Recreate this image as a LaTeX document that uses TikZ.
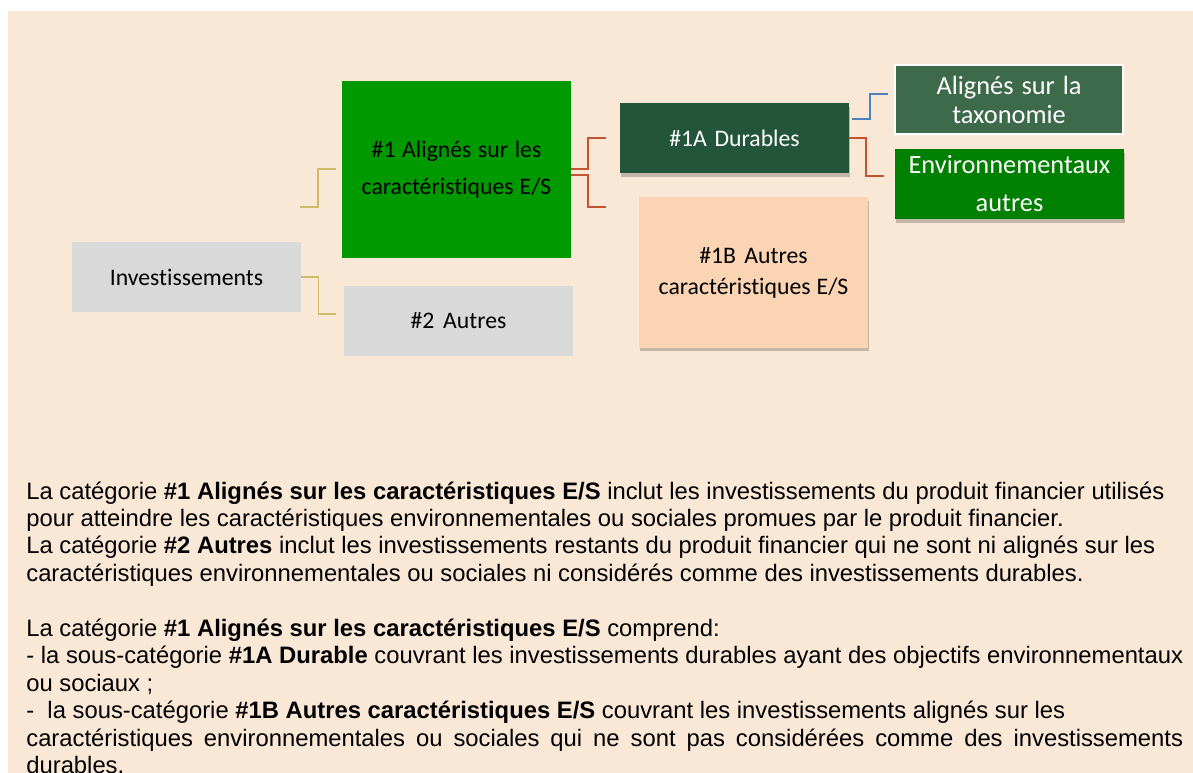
\documentclass[tikz,border=0pt]{standalone}
\usepackage{fontspec}
\setmainfont[Ligatures=NoCommon]{Liberation Sans}
\newfontfamily\calibri[Ligatures=NoCommon]{Carlito}
\usetikzlibrary{calc,shadows}

\definecolor{fond}{HTML}{FAE8D7}
\definecolor{gris}{HTML}{D9D9D9}
\definecolor{vertES}{HTML}{009900}
\definecolor{vertDur}{HTML}{23553A}
\definecolor{vertTaxo}{HTML}{3D6A4A}
\definecolor{vertEnv}{HTML}{008000}
\definecolor{peche}{HTML}{FBD4B4}
\definecolor{jaune}{HTML}{CBBA67}
\definecolor{rouge}{HTML}{C6532F}
\definecolor{bleu}{HTML}{4F81BD}

\newcommand{\ligne}[1]{\makebox[23.14cm][s]{#1}}

\begin{document}
\begin{tikzpicture}[
  x=0.02cm,y=-0.02cm,
  boite/.style={inner sep=2pt,align=center,text width=4.3cm,
    minimum width=4.58cm,minimum height=1.40cm,
    execute at begin node={\spaceskip=0pt\xspaceskip=0pt},
    font=\calibri\fontsize{13.5pt}{17.6pt}\selectfont},
  grande/.style={font=\calibri\fontsize{15pt}{16.5pt}\selectfont},
  ombre/.style={drop shadow={shadow xshift=0.6pt,shadow yshift=-2pt,
    opacity=0.22,fill=black}},
  lienj/.style={draw=jaune,line width=0.9pt},
  lienr/.style={draw=rouge,line width=1pt},
  lienb/.style={draw=bleu,line width=1pt},
  corps/.style={inner sep=0pt,text width=23.14cm,align=left,
    execute at begin node={\spaceskip=0pt\xspaceskip=0pt},
    font=\fontsize{13.55pt}{15.65pt}\selectfont}
]
  \useasboundingbox (0,0) rectangle (1193,773);
  \fill[fond] (8,11) rectangle (1193,773);

  % Boxes
  \node[boite,fill=gris] (inv) at (186.5,277) {Investissements};
  \node[boite,fill=vertES,minimum height=3.54cm,
    font=\calibri\fontsize{13.5pt}{21pt}\selectfont] (es) at (456.5,169.5)
    {\#1 Alignés sur les\\caractéristiques E/S};
  \node[boite,fill=gris] (autres) at (458.5,321) {\#2 Autres};
  \node[boite,ombre,fill=vertDur,text=white] (durables) at (734.5,138) {\#1A Durables};
  \node[boite,ombre,fill=peche,minimum height=3.02cm] (autresES) at (753.5,272.5)
    {\#1B Autres\\caractéristiques E/S};
  \node[boite,grande,fill=vertTaxo,text=white,draw=white,line width=0.04cm,
    minimum width=4.56cm,minimum height=1.38cm] (taxo) at (1009,99.5)
    {Alignés sur la\\taxonomie};
  \node[boite,ombre,fill=vertEnv,text=white,
    font=\calibri\fontsize{15pt}{21.6pt}\selectfont] (env) at (1009.5,184)
    {Environnementaux\\autres};

  % Connector ends
  \coordinate (j1) at (300,207);
  \coordinate (j2) at (336,169);
  \coordinate (j3) at (336,314);
  \coordinate (r1) at (606,138);
  \coordinate (r2) at (606,207);
  \coordinate (b1) at (888,94);
  \coordinate (r3) at (884,176);

  % Connectors
  \draw[lienj] (j1) -- ++(18,0) |- (j2);
  \draw[lienj] (inv.east) -- ++(17,0) |- (j3);
  \draw[lienr] ($(es.east)+(0,-0.5)$) -- ++(17,0) |- (r1);
  \draw[lienr] ($(es.east)+(0,5.5)$) -- ++(17,0) |- (r2);
  \draw[lienb] ($(durables.east)+(3,-19)$) -- ++(18,0) |- (b1);
  \draw[lienr] (durables.east) -- ++(17,0) |- (r3);

  % Text
  \node[corps,anchor=base west] (texte) at (26,499) {%
    La catégorie \textbf{\#1 Alignés sur les caractéristiques E/S} inclut les investissements du produit financier utilisés\\
    pour atteindre les caractéristiques environnementales ou sociales promues par le produit financier.\\
    La catégorie \textbf{\#2 Autres} inclut les investissements restants du produit financier qui ne sont ni alignés sur les\\
    caractéristiques environnementales ou sociales ni considérés comme des investissements durables.\\[15.65pt]
    La catégorie \textbf{\#1 Alignés sur les caractéristiques E/S} comprend:\\
    \ligne{- la sous-catégorie \textbf{\#1A Durable} couvrant les investissements durables ayant des objectifs environnementaux}\\
    ou sociaux ;\\
    -\ \ la sous-catégorie \textbf{\#1B Autres caractéristiques E/S} couvrant les investissements alignés sur les\\
    \ligne{caractéristiques environnementales ou sociales qui ne sont pas considérées comme des investissements}\\
    durables.};
\end{tikzpicture}
\end{document}
